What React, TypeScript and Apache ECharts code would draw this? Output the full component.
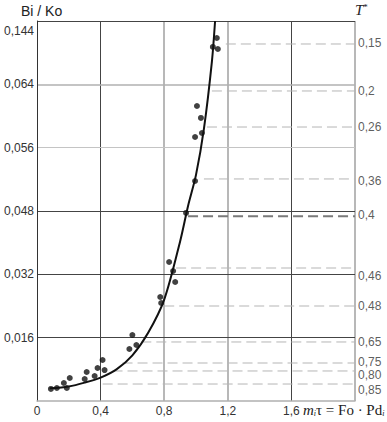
import React, { useEffect, useRef } from "react";
import * as echarts from "echarts";

// x axis ticks (m_i τ)
const xTickValues = [0, 0.4, 0.8, 1.2, 1.6, 2.0];
// left axis labels at evenly spaced positions 0..6
const yTickLabels = ["", "0,016", "0,032", "0,048", "0,056", "0,064", "0,144"];

// fitted curve
const curveX = [0.08, 0.2, 0.3, 0.4, 0.5, 0.6, 0.7, 0.8, 0.9, 0.95, 1.0, 1.05, 1.1, 1.12];
const curveY = [0.2, 0.23, 0.29, 0.37, 0.5, 0.72, 1.08, 1.6, 2.52, 3.08, 3.57, 4.3, 5.36, 6.0];

// experimental points
const pointsX = [0.0875, 0.125, 0.169, 0.1875, 0.206, 0.3, 0.3125, 0.3625, 0.381, 0.4125, 0.425, 0.581, 0.6, 0.625, 0.775, 0.781, 0.869, 0.856, 0.831, 0.9375, 0.994, 0.994, 1.0375, 1.031, 1.006, 1.106, 1.1375, 1.131];
const pointsY = [0.19, 0.205, 0.284, 0.205, 0.363, 0.347, 0.458, 0.395, 0.521, 0.647, 0.489, 0.821, 1.042, 0.884, 1.642, 1.547, 1.879, 2.053, 2.195, 2.969, 3.474, 4.168, 4.232, 4.469, 4.658, 5.59, 5.558, 5.732];

// T* levels (dashed lines) and right-side labels
const tLabels = ["0,15", "0,2", "0,26", "0,36", "0,4", "0,46", "0,48", "0,65", "0,75", "0,80", "0,85"];
const tLevelY = [5.637, 4.895, 4.326, 3.506, 2.916, 2.1, 1.5, 0.932, 0.6, 0.474, 0.268];
const tStartX = [1.1875, 1.1, 1.069, 1.05, 0.95, 0.875, 0.8, 0.656, 0.538, 0.475, 0.413];
const tLabelY = [5.653, 4.895, 4.326, 3.474, 2.937, 1.974, 1.5, 0.932, 0.616, 0.411, 0.174];

const gridXDark = [0.4, 1.6];
const gridXGray = [0.8, 1.2, 2.0];
const gridYDark = [1, 2, 3, 6];
const gridYGray = [4, 5];

export default function App() {
  const ref = useRef<HTMLDivElement>(null);
  useEffect(() => {
    if (!ref.current) return;
    const chart = echarts.init(ref.current, undefined, { renderer: "svg" });
    const sans = "Liberation Sans, Arial, sans-serif";
    const serif = "Liberation Serif, Times New Roman, serif";

    const dashSeries = tLevelY.map((y, i) => ({
      type: "line",
      data: [
        [tStartX[i], y],
        [2.0, y],
      ],
      symbol: "none",
      silent: true,
      z: 1,
      lineStyle: {
        color: i === 4 ? "#7a7a7a" : "#b5b5b5",
        width: i === 4 ? 2 : 1,
        type: [10, 5],
      },
    }));

    const markData: any[] = [];
    gridXDark.forEach((v) => markData.push({ xAxis: v, lineStyle: { color: "#444", width: 1, type: "solid" } }));
    gridXGray.forEach((v) => markData.push({ xAxis: v, lineStyle: { color: "#b8b8b8", width: 2, type: "solid" } }));
    gridYDark.forEach((v) => markData.push({ yAxis: v, lineStyle: { color: "#444", width: 1, type: "solid" } }));
    gridYGray.forEach((v, i) =>
      markData.push({ yAxis: v, lineStyle: { color: i === 0 ? "#c4c4c4" : "#b0b0b0", width: i === 0 ? 1 : 1.5, type: "solid" } })
    );

    chart.setOption({
      animation: false,
      grid: { left: 37, right: 32, top: 21, bottom: 21, containLabel: false },
      xAxis: {
        type: "value",
        min: 0,
        max: 2,
        interval: 0.4,
        axisLine: { show: true, lineStyle: { color: "#b0b0b0", width: 1.5 } },
        axisTick: { show: false },
        splitLine: { show: false },
        axisLabel: {
          color: "#333",
          fontFamily: sans,
          fontSize: 12,
          margin: 4,
          formatter: (v: number) => {
            const idx = xTickValues.findIndex((t) => Math.abs(t - v) < 1e-6);
            if (idx === xTickValues.length - 1) return "";
            return String(Math.round(v * 10) / 10).replace(".", ",");
          },
        },
      },
      yAxis: {
        type: "value",
        min: 0,
        max: 6,
        interval: 1,
        axisLine: { show: true, lineStyle: { color: "#333", width: 1 } },
        axisTick: { show: false },
        splitLine: { show: false },
        axisLabel: {
          color: "#333",
          fontFamily: sans,
          fontSize: 12,
          margin: 3,
          formatter: (v: number) => {
            const s = yTickLabels[Math.round(v)] || "";
            return Math.round(v) === 6 ? "{top|" + s + "}" : s;
          },
          rich: { top: { fontFamily: sans, fontSize: 12, color: "#333", padding: [20, 0, 0, 0] } },
        },
      },
      graphic: [
        {
          type: "text",
          left: 21,
          top: 4,
          style: { text: "Bi / Ko", fontFamily: sans, fontSize: 14, fill: "#222" },
        },
        {
          type: "text",
          left: 355,
          top: 2,
          style: {
            text: "{t|T}{s|*}",
            rich: {
              t: { fontFamily: serif, fontStyle: "italic", fontSize: 15, fill: "#222" },
              s: { fontFamily: serif, fontSize: 9, fill: "#222", verticalAlign: "top", padding: [0, 0, 6, 0] },
            },
          },
        },
        {
          type: "text",
          left: 303,
          top: 402,
          style: {
            text: "{m|m}{i|i}{n|τ = Fo · Pd}{i|i}",
            rich: {
              m: { fontFamily: serif, fontStyle: "italic", fontSize: 15, fill: "#222" },
              i: { fontFamily: serif, fontStyle: "italic", fontSize: 8, fill: "#222", padding: [8, 0, 0, 0] },
              n: { fontFamily: serif, fontSize: 15, fill: "#222" },
            },
          },
        },
      ],
      series: [
        {
          type: "line",
          data: [],
          silent: true,
          markLine: { symbol: "none", silent: true, label: { show: false }, data: markData, z: 0 },
          z: 0,
        },
        ...dashSeries,
        {
          type: "line",
          data: curveX.map((x, i) => [x, curveY[i]]),
          smooth: 0.3,
          symbol: "none",
          lineStyle: { color: "#111", width: 2 },
          z: 3,
        },
        {
          type: "scatter",
          data: pointsX.map((x, i) => [x, pointsY[i]]),
          symbolSize: 6,
          itemStyle: { color: "#111" },
          z: 4,
        },
        {
          type: "scatter",
          data: tLabelY.map((y, i) => ({ value: [2.0, y], name: tLabels[i] })),
          symbolSize: 0,
          silent: true,
          label: {
            show: true,
            position: "right",
            distance: 3,
            formatter: (p: any) => p.name,
            color: "#333",
            fontFamily: sans,
            fontSize: 12,
          },
        },
      ],
    });
    return () => chart.dispose();
  }, []);
  return <div ref={ref} style={{ width: 387, height: 422, position: "absolute", left: 0, top: 0 }} />;
}
